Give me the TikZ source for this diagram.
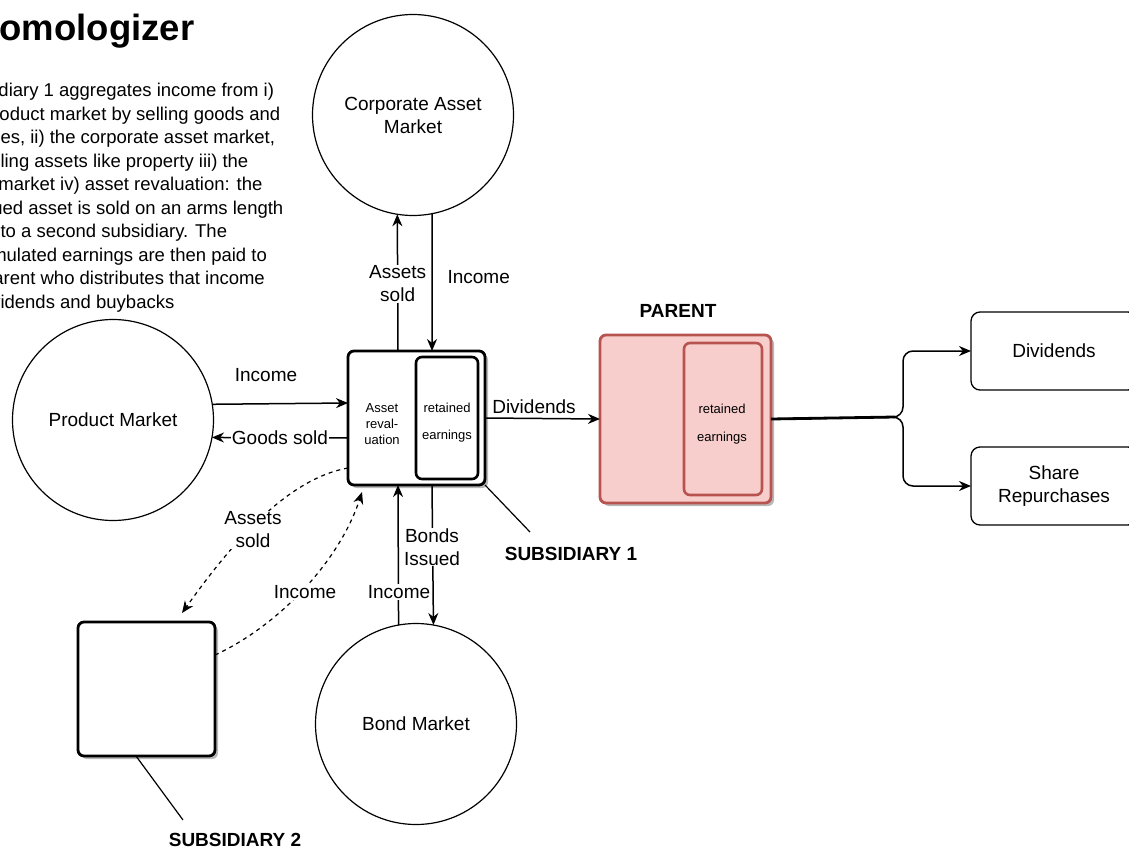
\documentclass[tikz,border=0pt]{standalone}
\usepackage{fontspec}
\setmainfont{Liberation Sans}
\usetikzlibrary{arrows.meta,shadows,calc}
\definecolor{pfill}{HTML}{F8CECC}
\definecolor{pline}{HTML}{B85450}
\begin{document}
\begin{tikzpicture}[x=1pt,y=-1pt,
  every node/.style={font=\fontsize{19}{23}\selectfont},
  circ/.style={circle,draw,line width=1.2pt,minimum size=201pt,inner sep=0pt,outer sep=0pt,align=center},
  shad/.style={drop shadow={shadow xshift=3pt,shadow yshift=-3pt,fill=black!28,opacity=1}},
  sbox/.style={draw,line width=2.8pt,rounded corners=6pt,fill=white,outer sep=0pt,inner sep=0pt,shad},
  ibox/.style={draw,line width=2.6pt,rounded corners=6pt,outer sep=0pt,inner sep=0pt},
  pbox/.style={draw=pline,line width=2.8pt,rounded corners=6pt,fill=pfill,outer sep=0pt,inner sep=0pt,shad},
  rbox/.style={draw,line width=1.3pt,rounded corners=9pt,fill=white,outer sep=0pt,inner sep=0pt,align=center},
  small/.style={font=\fontsize{13}{16}\selectfont,align=center},
  arr/.style={line width=1.5pt,-{Stealth[length=12pt,width=10pt]}},
  darr/.style={line width=1.2pt,dash pattern=on 4pt off 4pt,-{Stealth[length=12pt,width=10pt]}},
  wlbl/.style={fill=white,inner sep=1pt,align=center},
  bold/.style={font=\fontsize{19}{23}\selectfont\bfseries},
  callout/.style={line width=1.2pt}
]
\path[use as bounding box] (0,0) rectangle (1129,848);
\clip (0,0) rectangle (1129,848);
\fill[white] (0,0) rectangle (1129,848);

% title and description
\node[anchor=base west,inner sep=0pt,font=\fontsize{36.5}{40}\selectfont\bfseries] (title) at (-27,41) {Homologizer};
\node[anchor=north west,inner sep=0pt,align=left,font=\fontsize{18.5}{23.5}\selectfont] (desc) at (-48,83) {Subsidiary 1 aggregates income from i)\\
the product market by selling goods and\\
services, ii) the corporate asset market,\\
by selling assets like property iii) the\\
bond market iv) asset revaluation: the\\
revalued asset is sold on an arms length\\
basis to a second subsidiary. The\\
accumulated earnings are then paid to\\
the parent who distributes that income\\
as dividends and buybacks};

% markets
\node[circ] (cam) at (413,115) {Corporate Asset\\Market};
\node[circ] (pm) at (113,420) {Product Market};
\node[circ] (bm) at (416,724) {Bond Market};

% subsidiary 1
\node[sbox,minimum width=137pt,minimum height=134pt] (s1) at (416.5,418) {};
\node[ibox,minimum width=62pt,minimum height=122pt] (re1) at (447,418) {};
\node[small,font=\fontsize{13}{27}\selectfont] (re1t) at (447,422.5) {retained\\earnings};
\node[small] (rev) at (382,424) {Asset\\reval-\\uation};

% subsidiary 2
\node[sbox,minimum width=137pt,minimum height=134pt] (s2) at (146.5,689) {};

% parent
\node[pbox,minimum width=171pt,minimum height=168pt] (par) at (685.5,419) {};
\node[ibox,draw=pline,minimum width=78pt,minimum height=152pt] (re2) at (723,419) {};
\node[small,font=\fontsize{13}{28}\selectfont] (re2t) at (722,424) {retained\\earnings};
\node[bold] (parl) at (678,311) {PARENT};

% outputs
\node[rbox,minimum width=166pt,minimum height=78pt] (dv) at (1054,351) {Dividends};
\node[rbox,minimum width=166pt,minimum height=78pt] (sr) at (1054,486) {Share\\Repurchases};

% product market flows
\draw[arr] (pm.9.7) -- ([yshift=15pt]s1.west);
\node (pmi) at (266,375) {Income};
\draw[arr] ([yshift=-20pt]s1.west) -- node[wlbl] (gs) {Goods sold} (pm.-10.3);

% corporate asset flows
\draw[arr] ([xshift=-18.5pt]s1.north) -- node[wlbl,pos=0.49] (as1) {Assets\\sold} (cam.261.4);
\draw[arr] (cam.281) -- ([xshift=15.5pt]s1.north);
\node[anchor=west] (cai) at (444,277) {Income};

% bond flows
\draw[arr] (bm.100) -- ([xshift=-18.5pt]s1.south);
\draw[arr] ([xshift=15.5pt]s1.south) -- (bm.80);
\node[wlbl] (bi) at (432,547) {Bonds\\Issued};
\node[wlbl] (bmi) at (399,592) {Income};

% dividends to parent
\draw[arr] (s1.east) -- (par.west);
\node (dvl) at (534,407) {Dividends};

% parent distribution
\coordinate (br) at (903,417);
\draw[line width=2.8pt] (par.east) -- ([xshift=-8pt]br);
\draw[arr,rounded corners=10pt] (par.east) -- (br) |- (dv.west);
\draw[arr,rounded corners=10pt] (par.east) -- (br) |- (sr.west);

% subsidiary 2 dashed flows
\coordinate (s2tip) at (182,613);
\coordinate (s1tip) at (362,492);
\draw[darr] ([yshift=-50pt]s1.west) .. controls (280,480) and (220,560) .. (s2tip);
\node[wlbl] (as2) at (253,530) {Assets\\sold};
\draw[darr] ([yshift=34pt]s2.east) .. controls (280,625) and (340,560) .. (s1tip);
\node[wlbl] (s2i) at (305,592) {Income};

% callouts
\coordinate (c1) at (530,532);
\draw[callout] (s1.south east) -- (c1);
\node[bold] (s1l) at (571,554) {SUBSIDIARY 1};
\coordinate (c2) at (183,820);
\draw[callout] (136,756) -- (c2);
\node[bold] (s2l) at (235,840) {SUBSIDIARY 2};
\end{tikzpicture}
\end{document}
